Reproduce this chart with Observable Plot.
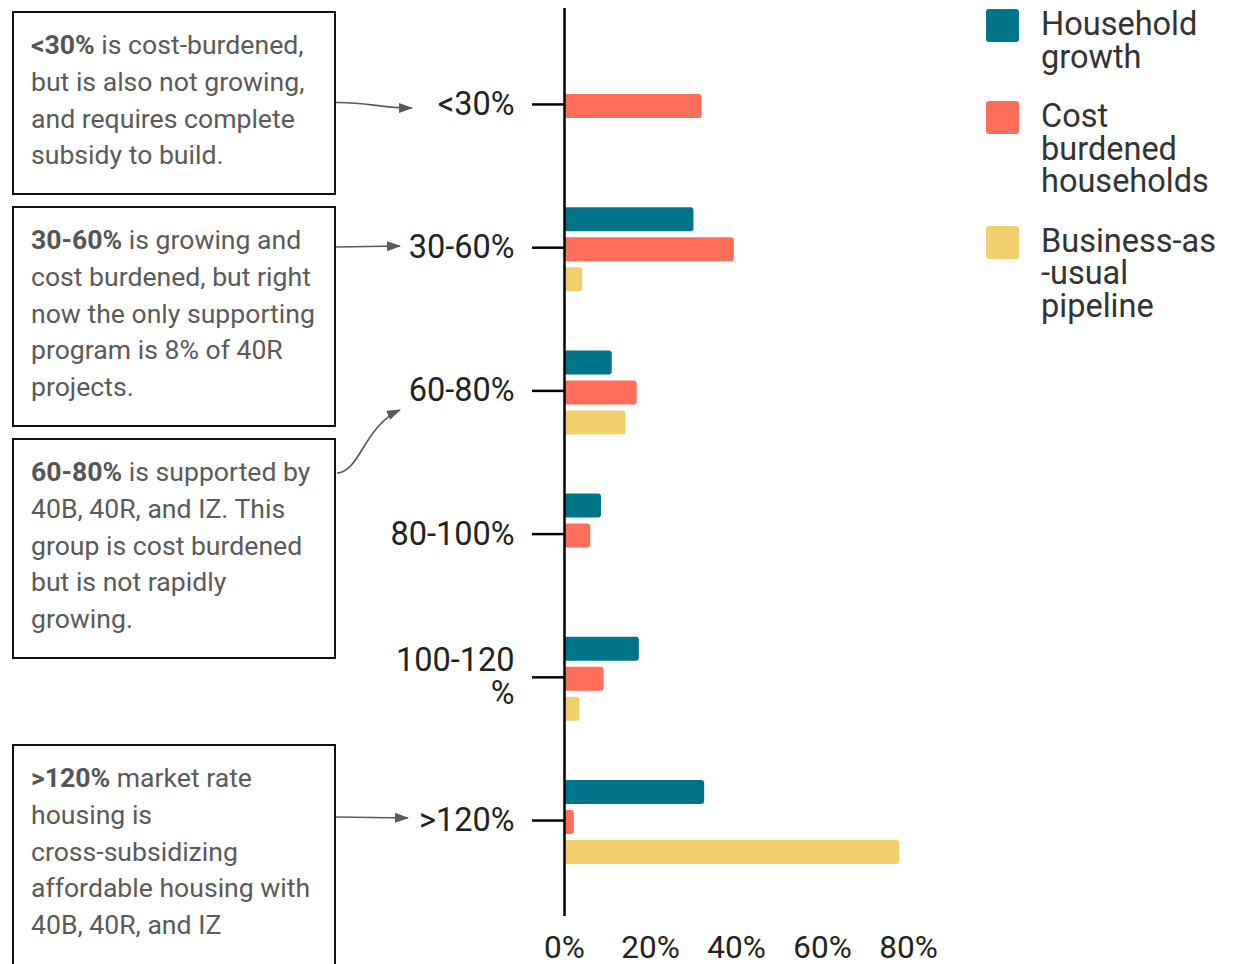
<!DOCTYPE html>
<html>
<head>
<meta charset="utf-8">
<script src="https://cdn.jsdelivr.net/npm/d3@7"></script>
<script src="https://cdn.jsdelivr.net/npm/@observablehq/plot@0.6"></script>
<style>
  html, body { margin: 0; padding: 0; background: #fff; }
  #root { position: relative; width: 1237px; height: 964px; overflow: hidden; font-family: Roboto, "Noto Sans", sans-serif; }
  #chart { position: absolute; left: 0; top: 0; }
  .note { position: absolute; left: 12px; width: 324px; box-sizing: border-box; border: 2px solid #111;
          padding: 14px 0 0 17px; font-size: 26.6px; line-height: 36.8px; color: #5a5a5a; background: #fff; }
  .note div { white-space: nowrap; }
  .note b { font-weight: 700; color: #555; }
  #arrows { position: absolute; left: 0; top: 0; pointer-events: none; }
  #legend { position: absolute; left: 986px; top: 8px; }
  .item { display: flex; align-items: flex-start; margin-bottom: 27px; }
  .sw { width: 33px; height: 33px; border-radius: 3px; margin-top: 1px; flex: none; }
  .lab { margin-left: 22px; font-size: 32.5px; line-height: 32.5px; color: #333; white-space: pre-line; }
</style>
</head>
<body>
<div id="root">
  <div id="chart"></div>
</div>
<script>
// ---- data ----
const categories = ["<30%", "30-60%", "60-80%", "80-100%", "100-120%", ">120%"];
const yTickLabels = ["<30%", "30-60%", "60-80%", "80-100%", "100-120\n%", ">120%"];
const seriesNames = ["Household growth", "Cost burdened households", "Business-as-usual pipeline"];
const legendLabels = ["Household\ngrowth", "Cost\nburdened\nhouseholds", "Business-as\n-usual\npipeline"];
const householdGrowth = [null, 30.1, 11.1, 8.6, 17.4, 32.6];
const costBurdened   = [32.0, 39.5, 16.9, 6.1, 9.2, 2.3];
const bauPipeline    = [null, 4.2, 14.3, null, 3.6, 78.0];
const xTicks = [0, 20, 40, 60, 80];
const colors = ["#00758a", "#ff6e5b", "#f1ce6e"];

const noteBold = ["<30%", "30-60%", "60-80%", ">120%"];
const noteLines = [
  [" is cost-burdened,", "but is also not growing,", "and requires complete", "subsidy to build."],
  [" is growing and", "cost burdened, but right", "now the only supporting", "program is 8% of 40R", "projects."],
  [" is supported by", "40B, 40R, and IZ. This", "group is cost burdened", "but is not rapidly", "growing."],
  [" market rate", "housing is", "cross-subsidizing", "affordable housing with", "40B, 40R, and IZ"]
];

// ---- build rows ----
const valuesBySeries = [householdGrowth, costBurdened, bauPipeline];
const rows = [];
valuesBySeries.forEach((vals, si) => {
  vals.forEach((v, ci) => {
    if (v != null) rows.push({category: categories[ci], series: seriesNames[si], value: v});
  });
});

// ---- layout ----
const W = 960, H = 964, mL = 564, mR = 52, mT = 8, mB = 48;
const paddingOuter = 0.17;
const step = (H - mT - mB) / (categories.length + 2 * paddingOuter);
const barH = 24, slot = 30;

const barMarks = seriesNames.map((s, k) => {
  const top = step / 2 - 40 + slot * k;
  return Plot.barX(rows.filter(d => d.series === s), {
    x: "value", y: "category", fill: colors[k], rx: 3,
    insetTop: top, insetBottom: step - top - barH
  });
});

const chart = Plot.plot({
  width: W, height: H,
  marginLeft: mL, marginRight: mR, marginTop: mT, marginBottom: mB,
  style: {fontFamily: "Roboto, sans-serif", background: "transparent", color: "#222"},
  x: {domain: [0, 80]},
  y: {type: "band", domain: categories, paddingInner: 0, paddingOuter: paddingOuter, round: false},
  marks: [
    ...barMarks,
    Plot.ruleX([0], {stroke: "#000", strokeWidth: 2.5}),
    Plot.axisY({
      tickSize: 32, tickPadding: 18, stroke: "#000", strokeWidth: 2.5,
      fill: "#222", fontSize: 32.5, lineHeight: 1.0, label: null,
      tickFormat: d => yTickLabels[categories.indexOf(d)]
    }),
    Plot.axisX({
      ticks: xTicks, tickSize: 0, tickPadding: 19, fill: "#222", fontSize: 31.5, label: null,
      tickFormat: d => d + "%"
    })
  ]
});
document.getElementById("chart").appendChild(chart);

// ---- annotation boxes ----
const root = document.getElementById("root");
const boxGeom = [[11, 184], [206, 221], [438, 221], [744, 260]];
noteLines.forEach((lines, i) => {
  const box = document.createElement("div");
  box.className = "note";
  box.style.top = boxGeom[i][0] + "px";
  box.style.height = boxGeom[i][1] + "px";
  lines.forEach((ln, j) => {
    const line = document.createElement("div");
    if (j === 0) {
      const b = document.createElement("b");
      b.textContent = noteBold[i];
      line.appendChild(b);
    }
    line.appendChild(document.createTextNode(ln));
    box.appendChild(line);
  });
  root.appendChild(box);
});

// ---- arrows ----
const NS = "http://www.w3.org/2000/svg";
const asvg = document.createElementNS(NS, "svg");
asvg.setAttribute("id", "arrows");
asvg.setAttribute("width", 1237);
asvg.setAttribute("height", 964);
asvg.innerHTML = `
  <defs>
    <marker id="ah" markerUnits="userSpaceOnUse" markerWidth="14" markerHeight="10" viewBox="0 0 14 10" refX="13" refY="5" orient="auto">
      <path d="M0,0 L14,5 L0,10 z" fill="#595959"/>
    </marker>
  </defs>
  <g fill="none" stroke="#595959" stroke-width="1.7" marker-end="url(#ah)">
    <path d="M336,102.5 C368,102 378,108 412,108"/>
    <path d="M336,247 L400,246"/>
    <path d="M337,473 C360,472 364,426 400,410"/>
    <path d="M336,817 L408,818"/>
  </g>`;
root.appendChild(asvg);

// ---- legend ----
const leg = document.createElement("div");
leg.id = "legend";
seriesNames.forEach((s, i) => {
  const it = document.createElement("div");
  it.className = "item";
  const sw = document.createElement("div");
  sw.className = "sw";
  sw.style.background = colors[i];
  const lab = document.createElement("div");
  lab.className = "lab";
  lab.textContent = legendLabels[i];
  it.appendChild(sw);
  it.appendChild(lab);
  leg.appendChild(it);
});
root.appendChild(leg);
</script>
</body>
</html>
